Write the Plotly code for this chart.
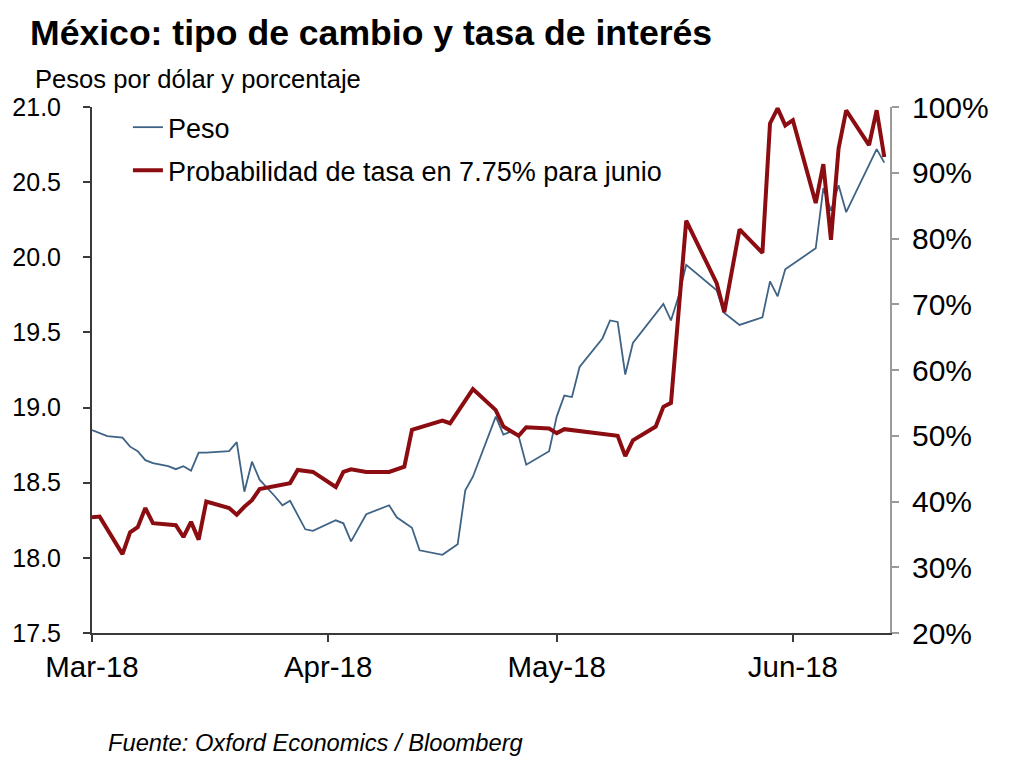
import plotly.graph_objects as go

# ---------------- data ----------------
peso_dates = [
    "2018-03-01", "2018-03-02", "2018-03-03", "2018-03-05", "2018-03-06", "2018-03-07",
    "2018-03-08", "2018-03-09", "2018-03-11", "2018-03-12", "2018-03-13", "2018-03-14",
    "2018-03-15", "2018-03-16", "2018-03-19", "2018-03-20", "2018-03-21", "2018-03-22",
    "2018-03-23", "2018-03-25", "2018-03-26", "2018-03-27", "2018-03-29", "2018-03-30",
    "2018-04-02", "2018-04-03", "2018-04-04", "2018-04-06", "2018-04-09", "2018-04-10",
    "2018-04-12", "2018-04-13", "2018-04-16", "2018-04-18", "2018-04-19", "2018-04-20",
    "2018-04-23", "2018-04-24", "2018-04-25", "2018-04-26", "2018-04-27", "2018-04-30",
    "2018-05-01", "2018-05-02", "2018-05-03", "2018-05-04", "2018-05-07", "2018-05-08",
    "2018-05-09", "2018-05-10", "2018-05-11", "2018-05-15", "2018-05-16", "2018-05-17",
    "2018-05-18", "2018-05-22", "2018-05-23", "2018-05-25", "2018-05-28", "2018-05-29",
    "2018-05-30", "2018-05-31", "2018-06-04", "2018-06-05", "2018-06-06", "2018-06-07",
    "2018-06-08", "2018-06-12", "2018-06-13",
]
peso_values = [
    18.85, 18.83, 18.81, 18.80, 18.74, 18.71,
    18.65, 18.63, 18.61, 18.59, 18.61, 18.58,
    18.70, 18.70, 18.71, 18.77, 18.44, 18.64,
    18.52, 18.41, 18.35, 18.38, 18.19, 18.18,
    18.25, 18.23, 18.11, 18.29, 18.35, 18.27,
    18.20, 18.05, 18.02, 18.09, 18.45, 18.54,
    18.94, 18.82, 18.84, 18.81, 18.62, 18.71,
    18.94, 19.08, 19.07, 19.27, 19.46, 19.58,
    19.57, 19.22, 19.43, 19.69, 19.58, 19.74,
    19.95, 19.78, 19.63, 19.55, 19.60, 19.84,
    19.74, 19.92, 20.06, 20.46, 20.31, 20.48,
    20.30, 20.72, 20.63,
]

prob_dates = [
    "2018-03-01", "2018-03-02", "2018-03-05", "2018-03-06", "2018-03-07", "2018-03-08",
    "2018-03-09", "2018-03-12", "2018-03-13", "2018-03-14", "2018-03-15", "2018-03-16",
    "2018-03-19", "2018-03-20", "2018-03-21", "2018-03-22", "2018-03-23", "2018-03-26",
    "2018-03-27", "2018-03-28", "2018-03-30",
    "2018-04-02", "2018-04-03", "2018-04-04", "2018-04-06", "2018-04-09", "2018-04-11",
    "2018-04-12", "2018-04-16", "2018-04-17", "2018-04-20", "2018-04-23", "2018-04-24",
    "2018-04-26", "2018-04-27", "2018-04-30",
    "2018-05-01", "2018-05-02", "2018-05-09", "2018-05-10", "2018-05-11", "2018-05-14",
    "2018-05-15", "2018-05-16", "2018-05-18", "2018-05-22", "2018-05-23", "2018-05-25",
    "2018-05-28", "2018-05-29", "2018-05-30", "2018-05-31",
    "2018-06-01", "2018-06-04", "2018-06-05", "2018-06-06", "2018-06-07", "2018-06-08",
    "2018-06-11", "2018-06-12", "2018-06-13",
]
prob_values = [
    37.6, 37.7, 32.0, 35.3, 36.1, 39.0,
    36.7, 36.4, 34.6, 36.9, 34.2, 40.0,
    39.0, 38.0, 39.2, 40.2, 41.9, 42.5,
    42.8, 44.8, 44.5,
    42.2, 44.5, 44.9, 44.5, 44.5, 45.3,
    50.9, 52.3, 51.9, 57.1, 53.9, 51.4,
    50.0, 51.3, 51.1,
    50.4, 51.0, 50.0, 46.9, 49.3, 51.4,
    54.4, 55.0, 82.7, 73.2, 68.8, 81.4,
    77.8, 97.5, 99.8, 97.2,
    98.0, 85.4, 91.3, 79.8, 93.7, 99.5,
    94.2, 99.5, 92.4,
]

left_ticks = [17.5, 18.0, 18.5, 19.0, 19.5, 20.0, 20.5, 21.0]
right_ticks = [20, 30, 40, 50, 60, 70, 80, 90, 100]
right_tick_labels = ["20%", "30%", "40%", "50%", "60%", "70%", "80%", "90%", "100%"]
x_ticks = ["2018-03-01", "2018-04-01", "2018-05-01", "2018-06-01"]
x_tick_labels = ["Mar-18", "Apr-18", "May-18", "Jun-18"]

title_text = "México: tipo de cambio y tasa de interés"
subtitle_text = "Pesos por dólar y porcentaje"
source_text = "Fuente: Oxford Economics / Bloomberg"

# ---------------- figure ----------------
BASE = "Liberation Sans, Arial, sans-serif"

fig = go.Figure()
fig.add_trace(go.Scatter(
    x=peso_dates, y=peso_values, name="Peso", mode="lines",
    line=dict(color="#3f6385", width=1.8), yaxis="y", legendgroup="a",
))
fig.add_trace(go.Scatter(
    x=prob_dates, y=prob_values, name="Probabilidad de tasa en 7.75% para junio",
    mode="lines", line=dict(color="#8b0d12", width=4), yaxis="y2", legendgroup="b",
))

fig.update_layout(
    width=1024, height=764,
    margin=dict(l=84, r=142, t=99, b=139, autoexpand=False),
    paper_bgcolor="white", plot_bgcolor="white",
    font=dict(family=BASE, size=27, color="black"),
    title=dict(text="<b>" + title_text + "</b>", x=22 / 1024, xanchor="left",
               xref="container", y=1 - 25 / 764, yanchor="middle", yref="container",
               font=dict(family=BASE, size=35.6, color="black")),
    xaxis=dict(
        type="date", range=["2018-03-01", "2018-06-13 18:00"],
        tickvals=x_ticks, ticktext=x_tick_labels, automargin=False,
        showgrid=False, zeroline=False,
        showline=True, linecolor="#3a3a3a", linewidth=2,
        ticks="outside", ticklen=7, tickwidth=1.5, tickcolor="#3a3a3a",
        tickfont=dict(family=BASE, size=29.5), ticklabelstandoff=0,
    ),
    yaxis=dict(
        range=[17.5, 21.0], tickvals=left_ticks, tickformat=".1f", automargin=False,
        showgrid=False, zeroline=False,
        showline=True, linecolor="#3a3a3a", linewidth=2,
        ticks="outside", ticklen=7, tickwidth=1.5, tickcolor="#3a3a3a",
        tickfont=dict(family=BASE, size=25), ticklabelstandoff=17,
    ),
    yaxis2=dict(
        range=[20, 100], tickvals=right_ticks, ticktext=right_tick_labels,
        overlaying="y", side="right", automargin=False,
        showgrid=False, zeroline=False,
        showline=True, linecolor="#9a9a9a", linewidth=2,
        ticks="outside", ticklen=7, tickwidth=1.5, tickcolor="#9a9a9a",
        tickfont=dict(family=BASE, size=30), ticklabelstandoff=7,
    ),
    legend=dict(
        x=0.045, y=1.0074, xanchor="left", yanchor="top",
        bgcolor="rgba(0,0,0,0)", borderwidth=0,
        font=dict(family=BASE, size=27),
        tracegroupgap=5, traceorder="grouped", itemwidth=30,
    ),
    showlegend=True,
)

fig.add_annotation(
    text=subtitle_text, xref="paper", yref="paper",
    x=(33 - 92) / 798, y=(633 - 79) / 526, xanchor="left", yanchor="middle",
    showarrow=False, font=dict(family=BASE, size=25.6, color="black"),
)
fig.add_annotation(
    text="<i>" + source_text + "</i>", xref="paper", yref="paper",
    x=(106 - 92) / 798, y=(633 - 743) / 526, xanchor="left", yanchor="middle",
    showarrow=False, font=dict(family=BASE, size=23.7, color="black"),
)

fig.write_html("out.html")
